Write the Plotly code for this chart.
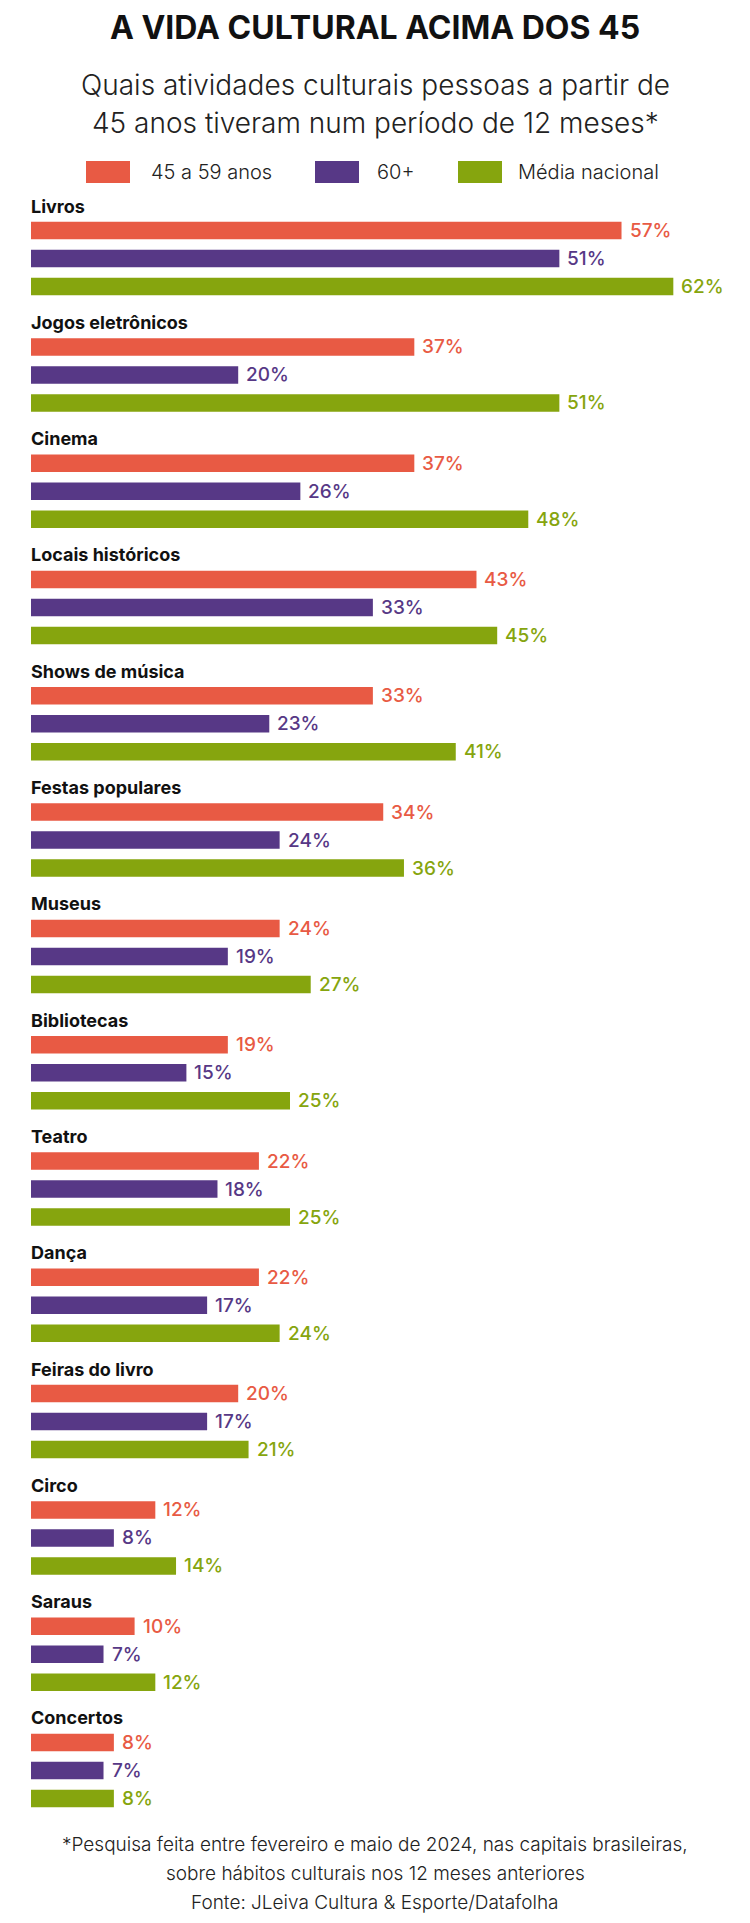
import plotly.graph_objects as go

# ---------------- data ----------------
categories = ["Livros", "Jogos eletrônicos", "Cinema", "Locais históricos", "Shows de música",
              "Festas populares", "Museus", "Bibliotecas", "Teatro", "Dança",
              "Feiras do livro", "Circo", "Saraus", "Concertos"]
age_45_59 = [57, 37, 37, 43, 33, 34, 24, 19, 22, 22, 20, 12, 10, 8]
age_60 = [51, 20, 26, 33, 23, 24, 19, 15, 18, 17, 17, 8, 7, 7]
media_nacional = [62, 51, 48, 45, 41, 36, 27, 25, 25, 24, 21, 14, 12, 8]
series_names = ["45 a 59 anos", "60+", "Média nacional"]

title = "A VIDA CULTURAL ACIMA DOS 45"
subtitle = ["Quais atividades culturais pessoas a partir de",
            "45 anos tiveram num período de 12 meses*"]
footer = ["*Pesquisa feita entre fevereiro e maio de 2024, nas capitais brasileiras,",
          "sobre hábitos culturais nos 12 meses anteriores",
          "Fonte: JLeiva Cultura & Esporte/Datafolha"]

# ---------------- style / layout ----------------
OFF = 8               # page body margin
W, H = 750 - OFF, 1923 - OFF
COLORS = ["#E85A44", "#573886", "#86A50E"]
FONT = "Inter"
X0_PX = 31.0 - OFF    # pixel where 0% sits
PX_PER_PCT = 10.36
GROUP_START = 206.0 - OFF
GROUP_STEP = 116.3
BAR_OFFSET = 24.6
BAR_STEP = 28.0
BAR_H = 17.5
CX = 375 - OFF        # horizontal centre of the page in figure px

label_y = [GROUP_START + i * GROUP_STEP for i in range(len(categories))]

fig = go.Figure()
annotations = []
all_series = [age_45_59, age_60, media_nacional]
for k, (name, vals, col) in enumerate(zip(series_names, all_series, COLORS)):
    ys = [ly + BAR_OFFSET + k * BAR_STEP for ly in label_y]
    fig.add_trace(go.Bar(
        x=vals, y=ys, orientation="h", width=BAR_H, name=name,
        marker=dict(color=col, line=dict(width=0)), showlegend=False,
        hoverinfo="skip"))
    for v, yy in zip(vals, ys):
        annotations.append(dict(
            x=v, y=yy, xref="x", yref="y", text=f"{v}%", showarrow=False,
            xanchor="left", yanchor="middle", xshift=6,
            font=dict(family=FONT, size=19, color=col, weight=500)))

for cat, ly in zip(categories, label_y):
    annotations.append(dict(
        x=0, y=ly, xref="x", yref="y", text=f"<b>{cat}</b>", showarrow=False,
        xanchor="left", yanchor="middle", xshift=-2,
        font=dict(family=FONT, size=18, color="#111111")))

# title & subtitle
annotations.append(dict(x=CX / W, y=27 - OFF, xref="paper", yref="y", text=f"<b>{title}</b>",
                        showarrow=False, xanchor="center", yanchor="middle",
                        font=dict(family=FONT, size=32, color="#111111")))
for i, line in enumerate(subtitle):
    annotations.append(dict(x=CX / W, y=84.5 - OFF + i * 38, xref="paper", yref="y", text=line,
                            showarrow=False, xanchor="center", yanchor="middle",
                            font=dict(family=FONT, size=28, color="#222222", weight=300)))

# legend (drawn manually)
shapes = []
legend_items = [(86, 149), (315, 375), (458, 516)]
for (sx, tx), name, col in zip(legend_items, series_names, COLORS):
    shapes.append(dict(type="rect", xref="paper", yref="y",
                       x0=(sx - OFF) / W, x1=(sx - OFF + 44) / W, y0=161 - OFF, y1=183 - OFF,
                       fillcolor=col, line=dict(width=0)))
    annotations.append(dict(x=(tx - OFF) / W, y=172 - OFF, xref="paper", yref="y", text=name,
                            showarrow=False, xanchor="left", yanchor="middle",
                            font=dict(family=FONT, size=20, color="#222222", weight=300)))

# footer
for i, line in enumerate(footer):
    annotations.append(dict(x=CX / W, y=1844 - OFF + i * 29, xref="paper", yref="y", text=line,
                            showarrow=False, xanchor="center", yanchor="middle",
                            font=dict(family=FONT, size=19, color="#222222", weight=300)))

fig.update_layout(
    width=W, height=H,
    margin=dict(l=0, r=0, t=0, b=0),
    paper_bgcolor="white", plot_bgcolor="white",
    barmode="overlay",
    xaxis=dict(range=[-X0_PX / PX_PER_PCT, (W - X0_PX) / PX_PER_PCT], visible=False, fixedrange=True),
    yaxis=dict(range=[H, 0], visible=False, fixedrange=True),
    annotations=annotations, shapes=shapes,
    showlegend=False,
)

fig.write_html("out.html")
